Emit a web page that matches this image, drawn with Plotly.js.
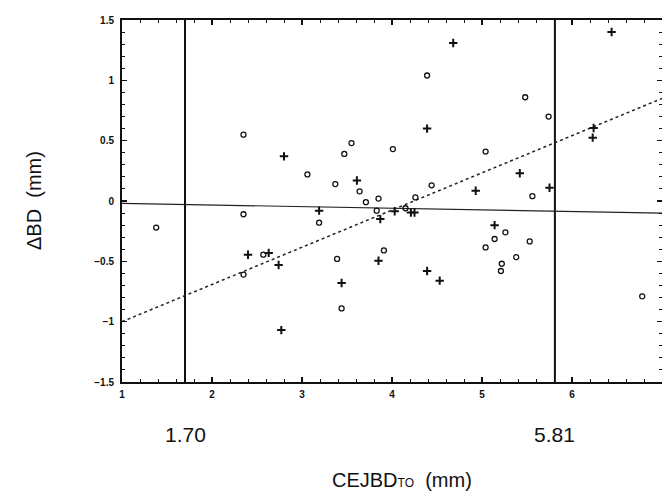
<!DOCTYPE html>
<html><head><meta charset="utf-8">
<script src="https://cdn.plot.ly/plotly-3.0.1.min.js"></script>
<style>html,body{margin:0;padding:0;background:#fff}#chart{width:662px;height:492px}</style>
</head><body><div id="chart"></div>
<script>
// Open circles
const circleX = [1.38, 2.35, 2.35, 2.57, 2.35, 3.06, 3.37, 3.47, 3.55, 3.64, 3.71, 3.85, 4.01, 4.26, 4.44, 4.39, 3.19, 3.83, 4.15, 3.91, 3.39, 3.44, 5.04, 5.48, 5.74, 5.56, 5.26, 5.14, 5.04, 5.53, 5.38, 5.22, 5.21, 6.78];
const circleY = [-0.22, 0.55, -0.11, -0.445, -0.61, 0.22, 0.14, 0.39, 0.48, 0.08, -0.01, 0.02, 0.43, 0.03, 0.13, 1.04, -0.18, -0.08, -0.06, -0.41, -0.48, -0.89, 0.41, 0.86, 0.70, 0.04, -0.26, -0.315, -0.385, -0.335, -0.465, -0.52, -0.58, -0.79];
// Crosses
const plusX = [2.80, 4.68, 4.39, 3.61, 4.93, 6.44, 6.24, 6.23, 5.42, 5.75, 2.40, 2.63, 2.74, 2.77, 3.19, 3.87, 4.03, 4.21, 4.25, 3.85, 3.44, 4.39, 4.53, 5.14];
const plusY = [0.37, 1.31, 0.60, 0.17, 0.085, 1.40, 0.605, 0.525, 0.23, 0.11, -0.445, -0.43, -0.53, -1.07, -0.08, -0.15, -0.085, -0.095, -0.095, -0.495, -0.68, -0.58, -0.66, -0.20];
// Reference lines
const cutoffs = [1.70, 5.81];
const cutoffLabels = ['1.70', '5.81'];
const flatLineX = [1, 7];
const flatLineY = [-0.02, -0.10];
const regLineX = [1, 7];
const regLineY = [-1.0, 0.85];
const yRange = [-1.5, 1.5];
const xRange = [1, 7];

const traces = [];
cutoffs.forEach(c => traces.push({x:[c,c], y:yRange, mode:'lines', line:{color:'#111', width:2}, hoverinfo:'skip', showlegend:false}));
traces.push({x:flatLineX, y:flatLineY, mode:'lines', line:{color:'#222', width:1.2}, showlegend:false});
traces.push({x:regLineX, y:regLineY, mode:'lines', line:{color:'#222', width:1.5, dash:'dot'}, showlegend:false});
traces.push({x:circleX, y:circleY, mode:'markers', marker:{symbol:'circle-open', size:5, color:'#111', line:{width:1.3, color:'#111'}}, showlegend:false});
traces.push({x:plusX, y:plusY, mode:'markers', marker:{symbol:'cross-thin', size:6, color:'#111', line:{width:2, color:'#111'}}, showlegend:false});

const tickFont = {family:'Liberation Sans, Arial, sans-serif', size:10, color:'#111', weight:'bold'};
const ann = cutoffs.map((c,i) => ({x:c, xref:'x', y:0, yref:'paper', yshift:-52, text:cutoffLabels[i], showarrow:false, font:{family:'Liberation Sans, Arial, sans-serif', size:21, color:'#111'}, yanchor:'middle'}));
ann.push({x:0.5, xref:'paper', y:0, yref:'paper', yshift:-98, xshift:10, borderpad:0, text:'CEJBD<span style="font-size:12px">TO</span>  (mm)', showarrow:false, font:{family:'Liberation Sans, Arial, sans-serif', size:20, color:'#111'}, yanchor:'middle'});
ann.push({x:0, xref:'paper', y:0.5, yref:'paper', xshift:-88, text:'ΔBD  (mm)', textangle:-90, showarrow:false, font:{family:'Liberation Sans, Arial, sans-serif', size:20, color:'#111'}, xanchor:'center'});

const layout = {
  width:662, height:492,
  margin:{l:122, r:0, t:20, b:110},
  paper_bgcolor:'#fff', plot_bgcolor:'#fff',
  xaxis:{range:xRange, dtick:1, tick0:1, ticks:'inside', ticklen:5, tickwidth:1.2, tickcolor:'#111', showline:true, linewidth:2, linecolor:'#111', mirror:'ticks', showgrid:false, zeroline:false, tickfont:tickFont, ticklabelstandoff:2,
    minor:{dtick:0.2, ticks:'inside', ticklen:3, tickcolor:'#111', tickwidth:1}},
  yaxis:{range:yRange, dtick:0.5, tick0:0, ticks:'inside', ticklen:5, tickwidth:1.2, tickcolor:'#111', showline:true, linewidth:2, linecolor:'#111', mirror:'ticks', showgrid:false, zeroline:false, tickfont:tickFont, ticklabelstandoff:4,
    minor:{dtick:0.1, ticks:'inside', ticklen:3, tickcolor:'#111', tickwidth:1}},
  annotations: ann
};
Plotly.newPlot('chart', traces, layout, {staticPlot:true});
</script></body></html>
